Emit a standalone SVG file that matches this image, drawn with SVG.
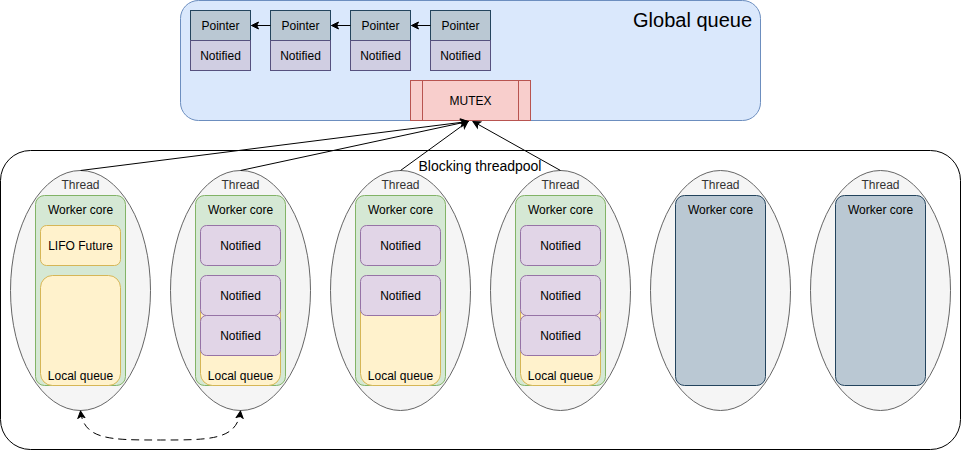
<svg xmlns="http://www.w3.org/2000/svg" width="961" height="451" viewBox="0 0 961 451">
<style>
text{font-family:"Liberation Sans",Arial,sans-serif;fill:#000;text-anchor:middle}
.t12{font-size:12px}
.ell{fill:#f5f5f5;stroke:#666666}
.core{fill:#d5e8d4;stroke:#82b366}
.coreb{fill:#bac8d3;stroke:#23445d}
.ptr{fill:#bac8d3;stroke:#23445d}
.ntf{fill:#d0cee2;stroke:#56517e}
.nt{fill:#e1d5e7;stroke:#9673a6}
.yel{fill:#fff2cc;stroke:#d6b656}
.thr{fill:#333333;font-size:12px}
.con{fill:none;stroke:#000;stroke-width:1}
</style>
<defs>
<marker id="arr" markerWidth="10" markerHeight="10" refX="8" refY="5" orient="auto" markerUnits="userSpaceOnUse">
<path d="M1,1.5 L8,5 L1,8.5 L2.8,5 Z" fill="#000" stroke="#000" stroke-width="1"/>
</marker>
<marker id="arrs" markerWidth="10" markerHeight="10" refX="8" refY="5" orient="auto-start-reverse" markerUnits="userSpaceOnUse">
<path d="M1,1.5 L8,5 L1,8.5 L2.8,5 Z" fill="#000" stroke="#000" stroke-width="1"/>
</marker>
</defs>

<g id="global-queue">
<rect x="180.5" y="0.5" width="580" height="120" rx="18" fill="#dae8fc" stroke="#6c8ebf"/>
<text x="752" y="27" style="font-size:20px;text-anchor:end">Global queue</text>
</g>

<g id="entry1">
<rect class="ptr" x="190.5" y="10.5" width="60" height="30"/><text class="t12" x="220.5" y="30">Pointer</text>
<rect class="ntf" x="190.5" y="40.5" width="60" height="30"/><text class="t12" x="220.5" y="60">Notified</text>
</g>
<g id="entry2">
<rect class="ptr" x="270.5" y="10.5" width="60" height="30"/><text class="t12" x="300.5" y="30">Pointer</text>
<rect class="ntf" x="270.5" y="40.5" width="60" height="30"/><text class="t12" x="300.5" y="60">Notified</text>
</g>
<g id="entry3">
<rect class="ptr" x="350.5" y="10.5" width="60" height="30"/><text class="t12" x="380.5" y="30">Pointer</text>
<rect class="ntf" x="350.5" y="40.5" width="60" height="30"/><text class="t12" x="380.5" y="60">Notified</text>
</g>
<g id="entry4">
<rect class="ptr" x="430.5" y="10.5" width="60" height="30"/><text class="t12" x="460.5" y="30">Pointer</text>
<rect class="ntf" x="430.5" y="40.5" width="60" height="30"/><text class="t12" x="460.5" y="60">Notified</text>
</g>

<g id="mutex">
<rect x="410.5" y="80.5" width="120" height="40" fill="#f8cecc" stroke="#b85450"/>
<line x1="422.5" y1="80.5" x2="422.5" y2="120.5" stroke="#b85450"/>
<line x1="518.5" y1="80.5" x2="518.5" y2="120.5" stroke="#b85450"/>
<text class="t12" x="470.5" y="105">MUTEX</text>
</g>

<g id="threadpool">
<rect x="0.5" y="150.5" width="960" height="299" rx="30" fill="#ffffff" stroke="#000"/>
<text x="480" y="171" style="font-size:14px">Blocking threadpool</text>
</g>

<g id="thread1">
<ellipse class="ell" cx="80.5" cy="290.5" rx="70" ry="120"/>
<text class="thr" x="80.5" y="189">Thread</text>
<rect class="core" x="35.5" y="195.5" width="90" height="190" rx="9"/>
<text class="t12" x="80.5" y="214">Worker core</text>
<rect class="yel" x="40.5" y="225.5" width="80" height="40" rx="6"/>
<text class="t12" x="80.5" y="250">LIFO Future</text>
<rect class="yel" x="40.5" y="275.5" width="80" height="110" rx="12"/>
<text class="t12" x="80.5" y="380">Local queue</text>
</g>

<g id="thread2">
<ellipse class="ell" cx="240.5" cy="290.5" rx="70" ry="120"/>
<text class="thr" x="240.5" y="189">Thread</text>
<rect class="core" x="195.5" y="195.5" width="90" height="190" rx="9"/>
<text class="t12" x="240.5" y="214">Worker core</text>
<rect class="yel" x="200.5" y="275.5" width="80" height="110" rx="12"/>
<text class="t12" x="240.5" y="380">Local queue</text>
<rect class="nt" x="200.5" y="225.5" width="80" height="40" rx="6"/>
<text class="t12" x="240.5" y="250">Notified</text>
<rect class="nt" x="200.5" y="275.5" width="80" height="40" rx="6"/>
<text class="t12" x="240.5" y="300">Notified</text>
<rect class="nt" x="200.5" y="315.5" width="80" height="40" rx="6"/>
<text class="t12" x="240.5" y="340">Notified</text>
</g>

<g id="thread3">
<ellipse class="ell" cx="400.5" cy="290.5" rx="70" ry="120"/>
<text class="thr" x="400.5" y="189">Thread</text>
<rect class="core" x="355.5" y="195.5" width="90" height="190" rx="9"/>
<text class="t12" x="400.5" y="214">Worker core</text>
<rect class="yel" x="360.5" y="275.5" width="80" height="110" rx="12"/>
<text class="t12" x="400.5" y="380">Local queue</text>
<rect class="nt" x="360.5" y="225.5" width="80" height="40" rx="6"/>
<text class="t12" x="400.5" y="250">Notified</text>
<rect class="nt" x="360.5" y="275.5" width="80" height="40" rx="6"/>
<text class="t12" x="400.5" y="300">Notified</text>
</g>

<g id="thread4">
<ellipse class="ell" cx="560.5" cy="290.5" rx="70" ry="120"/>
<text class="thr" x="560.5" y="189">Thread</text>
<rect class="core" x="515.5" y="195.5" width="90" height="190" rx="9"/>
<text class="t12" x="560.5" y="214">Worker core</text>
<rect class="yel" x="520.5" y="275.5" width="80" height="110" rx="12"/>
<text class="t12" x="560.5" y="380">Local queue</text>
<rect class="nt" x="520.5" y="225.5" width="80" height="40" rx="6"/>
<text class="t12" x="560.5" y="250">Notified</text>
<rect class="nt" x="520.5" y="275.5" width="80" height="40" rx="6"/>
<text class="t12" x="560.5" y="300">Notified</text>
<rect class="nt" x="520.5" y="315.5" width="80" height="40" rx="6"/>
<text class="t12" x="560.5" y="340">Notified</text>
</g>

<g id="thread5">
<ellipse class="ell" cx="720.5" cy="290.5" rx="70" ry="120"/>
<text class="thr" x="720.5" y="189">Thread</text>
<rect class="coreb" x="675.5" y="195.5" width="90" height="190" rx="9"/>
<text class="t12" x="720.5" y="214">Worker core</text>
</g>

<g id="thread6">
<ellipse class="ell" cx="880.5" cy="290.5" rx="70" ry="120"/>
<text class="thr" x="880.5" y="189">Thread</text>
<rect class="coreb" x="835.5" y="195.5" width="90" height="190" rx="9"/>
<text class="t12" x="880.5" y="214">Worker core</text>
</g>

<g id="connectors">
<path class="con" d="M270.5,25.5 L251.5,25.5" marker-end="url(#arr)"/>
<path class="con" d="M350.5,25.5 L331.5,25.5" marker-end="url(#arr)"/>
<path class="con" d="M430.5,25.5 L411.5,25.5" marker-end="url(#arr)"/>
<path class="con" d="M80.5,170.5 L468,121.5" marker-end="url(#arr)"/>
<path class="con" d="M240.5,170.5 L468,121.5" marker-end="url(#arr)"/>
<path class="con" d="M400.5,170.5 L468,121.5" marker-end="url(#arr)"/>
<path class="con" d="M560.5,170.5 L473,121.5" marker-end="url(#arr)"/>
<path class="con" d="M80.5,411 C84,440 110,440 160.5,440 C211,440 237,440 240.5,411" stroke-dasharray="8 5" marker-start="url(#arrs)" marker-end="url(#arrs)"/>
</g>
</svg>
